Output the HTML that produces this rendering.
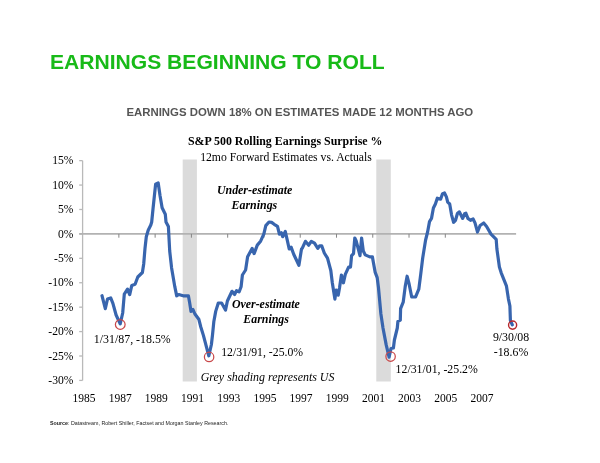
<!DOCTYPE html>
<html lang="en"><head><meta charset="utf-8"><title>Earnings Beginning to Roll</title>
<style>
html,body{margin:0;padding:0;background:#fff;}
body{width:600px;height:463px;overflow:hidden;}
svg{display:block;will-change:transform;}
</style></head><body>
<svg width="600" height="463" viewBox="0 0 600 463">
<rect x="182.7" y="159.5" width="14.2" height="222" fill="#dbdbdb"/>
<rect x="376.3" y="159.5" width="14.5" height="222" fill="#dbdbdb"/>
<g stroke="#b9b9b9" stroke-width="1.3" fill="none">
<line x1="82.6" y1="160.64" x2="82.6" y2="380.42"/>
<line x1="79.20" y1="160.64" x2="82.6" y2="160.64"/>
<line x1="79.20" y1="185.06" x2="82.6" y2="185.06"/>
<line x1="79.20" y1="209.48" x2="82.6" y2="209.48"/>
<line x1="79.20" y1="233.90" x2="82.6" y2="233.90"/>
<line x1="79.20" y1="258.32" x2="82.6" y2="258.32"/>
<line x1="79.20" y1="282.74" x2="82.6" y2="282.74"/>
<line x1="79.20" y1="307.16" x2="82.6" y2="307.16"/>
<line x1="79.20" y1="331.58" x2="82.6" y2="331.58"/>
<line x1="79.20" y1="356.00" x2="82.6" y2="356.00"/>
<line x1="79.20" y1="380.42" x2="82.6" y2="380.42"/>
</g>
<g stroke="#b2b2b2" stroke-width="1.7" fill="none">
<line x1="79.20" y1="233.9" x2="516.1" y2="233.9"/>
</g><g stroke="#858585" stroke-width="1" fill="none">
<line x1="118.87" y1="233.9" x2="118.87" y2="237.70"/>
<line x1="155.14" y1="233.9" x2="155.14" y2="237.70"/>
<line x1="191.41" y1="233.9" x2="191.41" y2="237.70"/>
<line x1="227.68" y1="233.9" x2="227.68" y2="237.70"/>
<line x1="263.95" y1="233.9" x2="263.95" y2="237.70"/>
<line x1="300.22" y1="233.9" x2="300.22" y2="237.70"/>
<line x1="336.49" y1="233.9" x2="336.49" y2="237.70"/>
<line x1="372.76" y1="233.9" x2="372.76" y2="237.70"/>
<line x1="409.03" y1="233.9" x2="409.03" y2="237.70"/>
<line x1="445.30" y1="233.9" x2="445.30" y2="237.70"/>
</g>
<polyline points="102.0,295.7 105.3,308.7 107.5,299.0 110.7,297.9 112.9,303.3 116.1,315 120.2,323.9 122.7,313 124.3,294.1 127.5,289.2 129.7,294.6 131.8,285.4 135.1,284.3 137.8,277 142.4,272.5 143.7,264 145.0,248.4 146.3,236.7 148.2,230.2 150.8,225 151.7,222 153.0,209 155.6,184.3 158.2,183 160.1,196 162.1,207.7 165.3,214.2 166.0,222 168.4,226.5 169.0,238 169.7,251 171.6,267.9 174.8,286.7 176.7,295.8 178.7,294.5 183.2,295.8 188.4,295.8 189.7,303 191.0,311.4 193.0,309.5 194.9,314 198.8,319.2 200.8,327 203.4,335.4 208.8,355.8 211.4,344.5 212.5,335 213.8,321.8 215.7,311.4 218.3,303 221.6,303 225.5,310.1 227.4,301 232.0,291.3 234.6,294.5 236.5,290.6 239.1,291.9 241.1,286.7 242.4,275 245.6,270 247.6,256.8 252.1,248.4 254.1,253.6 257.3,245.1 260.6,241.2 263.8,234.1 265.8,225.6 269.0,222 271.6,222.4 274.2,224.3 277.5,226.3 279.4,234.1 281.4,232.8 282.7,236.7 285.3,231.5 287.2,239.9 289.2,249 291.1,247.1 293.7,254.2 298.9,265.3 301.5,249 302.2,248.4 305.4,241.3 308.7,245.2 311.3,241.3 314.5,243.2 317.8,248.4 319.7,245.8 321.7,245.8 324.3,253 327.5,258.2 330.8,270.5 332.3,282.8 334.9,299.1 336.2,290 338.2,295.2 339.5,288 341.4,275 343.4,282.8 345.3,274.4 348.6,267.2 350.5,267.2 351.6,255.6 353.5,253.6 354.8,238 356.1,240.6 360.0,255.6 361.6,238 363.3,251 365.2,254.9 369.8,256.9 372.4,256.9 373.3,262 375.2,272.4 377.2,277.6 378.5,288 380.9,314 383.0,328 386.2,344.9 389.1,357.2 391.0,348.5 393.4,348 394.4,340 397.3,328 397.9,321.5 400.3,320.2 400.6,308.7 403.2,302.2 405.2,286.6 407.1,276.2 409.1,284 411.7,297 415.6,296.8 418.8,289.2 420.8,273.6 422.7,258 425.6,240 427.6,232 429.5,221.6 431.5,218.4 433.4,208 435.4,204 437.3,198.2 440.6,199.2 442.5,193.7 444.5,193 446.4,196.9 447.7,202.1 449.7,204 451.6,215.1 453.6,222.3 455.5,220.3 457.5,213.2 459.4,211.9 460.7,214.5 462.7,218.4 464.6,213.8 465.9,213.2 467.9,218.4 470.5,220.3 473.1,219 475.0,222.9 477.5,232 480.1,225.5 483.7,223 486.6,226.5 491.0,234.1 496.2,239.3 496.9,249 499.4,267 501.2,272.8 503.8,279.3 506.4,285.8 508.4,298.8 509.9,306 510.4,320.5 512.3,324.9" fill="none" stroke="#3865ae" stroke-width="3.2" stroke-linejoin="round" stroke-linecap="round"/>
<circle cx="120.25" cy="324.5" r="4.85" fill="none" stroke="#c9484a" stroke-width="1.25"/>
<circle cx="209.1" cy="356.9" r="4.7" fill="none" stroke="#c9484a" stroke-width="1.25"/>
<circle cx="390.6" cy="356.6" r="4.7" fill="none" stroke="#c9484a" stroke-width="1.25"/>
<circle cx="512.6" cy="325.1" r="4.05" fill="none" stroke="#b82a2e" stroke-width="1.45"/>
<text x="73.40" y="164.34" font-family="'Liberation Serif', 'Times New Roman', serif" font-size="11.6px" fill="#000" text-anchor="end">15%</text>
<text x="73.40" y="188.76" font-family="'Liberation Serif', 'Times New Roman', serif" font-size="11.6px" fill="#000" text-anchor="end">10%</text>
<text x="73.40" y="213.18" font-family="'Liberation Serif', 'Times New Roman', serif" font-size="11.6px" fill="#000" text-anchor="end">5%</text>
<text x="73.40" y="237.60" font-family="'Liberation Serif', 'Times New Roman', serif" font-size="11.6px" fill="#000" text-anchor="end">0%</text>
<text x="73.40" y="262.02" font-family="'Liberation Serif', 'Times New Roman', serif" font-size="11.6px" fill="#000" text-anchor="end">-5%</text>
<text x="73.40" y="286.44" font-family="'Liberation Serif', 'Times New Roman', serif" font-size="11.6px" fill="#000" text-anchor="end">-10%</text>
<text x="73.40" y="310.86" font-family="'Liberation Serif', 'Times New Roman', serif" font-size="11.6px" fill="#000" text-anchor="end">-15%</text>
<text x="73.40" y="335.28" font-family="'Liberation Serif', 'Times New Roman', serif" font-size="11.6px" fill="#000" text-anchor="end">-20%</text>
<text x="73.40" y="359.70" font-family="'Liberation Serif', 'Times New Roman', serif" font-size="11.6px" fill="#000" text-anchor="end">-25%</text>
<text x="73.40" y="384.12" font-family="'Liberation Serif', 'Times New Roman', serif" font-size="11.6px" fill="#000" text-anchor="end">-30%</text>
<text x="84.00" y="402.10" font-family="'Liberation Serif', 'Times New Roman', serif" font-size="11.5px" fill="#000" text-anchor="middle">1985</text>
<text x="120.18" y="402.10" font-family="'Liberation Serif', 'Times New Roman', serif" font-size="11.5px" fill="#000" text-anchor="middle">1987</text>
<text x="156.36" y="402.10" font-family="'Liberation Serif', 'Times New Roman', serif" font-size="11.5px" fill="#000" text-anchor="middle">1989</text>
<text x="192.54" y="402.10" font-family="'Liberation Serif', 'Times New Roman', serif" font-size="11.5px" fill="#000" text-anchor="middle">1991</text>
<text x="228.72" y="402.10" font-family="'Liberation Serif', 'Times New Roman', serif" font-size="11.5px" fill="#000" text-anchor="middle">1993</text>
<text x="264.90" y="402.10" font-family="'Liberation Serif', 'Times New Roman', serif" font-size="11.5px" fill="#000" text-anchor="middle">1995</text>
<text x="301.08" y="402.10" font-family="'Liberation Serif', 'Times New Roman', serif" font-size="11.5px" fill="#000" text-anchor="middle">1997</text>
<text x="337.26" y="402.10" font-family="'Liberation Serif', 'Times New Roman', serif" font-size="11.5px" fill="#000" text-anchor="middle">1999</text>
<text x="373.44" y="402.10" font-family="'Liberation Serif', 'Times New Roman', serif" font-size="11.5px" fill="#000" text-anchor="middle">2001</text>
<text x="409.62" y="402.10" font-family="'Liberation Serif', 'Times New Roman', serif" font-size="11.5px" fill="#000" text-anchor="middle">2003</text>
<text x="445.80" y="402.10" font-family="'Liberation Serif', 'Times New Roman', serif" font-size="11.5px" fill="#000" text-anchor="middle">2005</text>
<text x="481.98" y="402.10" font-family="'Liberation Serif', 'Times New Roman', serif" font-size="11.5px" fill="#000" text-anchor="middle">2007</text>
<text x="285.20" y="145.20" font-family="'Liberation Serif', 'Times New Roman', serif" font-size="11.9px" fill="#000" text-anchor="middle" font-weight="bold">S&amp;P 500 Rolling Earnings Surprise %</text>
<text x="286.00" y="160.60" font-family="'Liberation Serif', 'Times New Roman', serif" font-size="11.7px" fill="#000" text-anchor="middle">12mo Forward Estimates vs. Actuals</text>
<text x="254.60" y="193.50" font-family="'Liberation Serif', 'Times New Roman', serif" font-size="11.9px" fill="#000" text-anchor="middle" font-weight="bold" font-style="italic">Under-estimate</text>
<text x="254.40" y="209.10" font-family="'Liberation Serif', 'Times New Roman', serif" font-size="11.9px" fill="#000" text-anchor="middle" font-weight="bold" font-style="italic">Earnings</text>
<text x="265.90" y="307.80" font-family="'Liberation Serif', 'Times New Roman', serif" font-size="11.9px" fill="#000" text-anchor="middle" font-weight="bold" font-style="italic">Over-estimate</text>
<text x="266.10" y="323.40" font-family="'Liberation Serif', 'Times New Roman', serif" font-size="11.9px" fill="#000" text-anchor="middle" font-weight="bold" font-style="italic">Earnings</text>
<text x="93.80" y="343.30" font-family="'Liberation Serif', 'Times New Roman', serif" font-size="11.9px" fill="#000">1/31/87, -18.5%</text>
<text x="221.20" y="355.80" font-family="'Liberation Serif', 'Times New Roman', serif" font-size="11.75px" fill="#000">12/31/91, -25.0%</text>
<text x="395.60" y="372.50" font-family="'Liberation Serif', 'Times New Roman', serif" font-size="11.8px" fill="#000">12/31/01, -25.2%</text>
<text x="511.00" y="341.00" font-family="'Liberation Serif', 'Times New Roman', serif" font-size="11.85px" fill="#000" text-anchor="middle">9/30/08</text>
<text x="511.00" y="356.00" font-family="'Liberation Serif', 'Times New Roman', serif" font-size="11.85px" fill="#000" text-anchor="middle">-18.6%</text>
<text x="200.70" y="381.00" font-family="'Liberation Serif', 'Times New Roman', serif" font-size="11.96px" fill="#000" font-style="italic">Grey shading represents US</text>
<text x="49.90" y="69.30" font-family="'Liberation Sans', Arial, Helvetica, sans-serif" font-size="21.1px" fill="#18ba18" font-weight="bold">EARNINGS BEGINNING TO ROLL</text>
<text x="126.40" y="116.10" font-family="'Liberation Sans', Arial, Helvetica, sans-serif" font-size="11.4px" fill="#555" font-weight="bold">EARNINGS DOWN 18% ON ESTIMATES MADE 12 MONTHS AGO</text>
<text x="50.00" y="424.50" font-family="'Liberation Sans', Arial, Helvetica, sans-serif" font-size="5.32px" fill="#222"><tspan font-weight="bold">Source</tspan>: Datastream, Robert Shiller, Factset and Morgan Stanley Research.</text>
</svg>
</body></html>
